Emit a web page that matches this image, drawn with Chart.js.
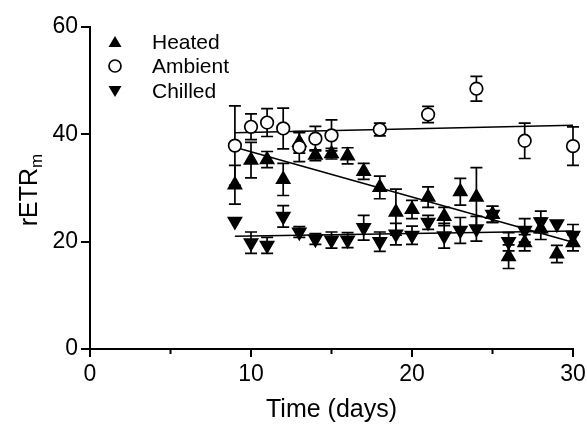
<!DOCTYPE html>
<html>
<head>
<meta charset="utf-8">
<script src="https://cdn.jsdelivr.net/npm/chart.js@4.4.1/dist/chart.umd.min.js"></script>
<style>
  html, body { margin: 0; background: #fff; }
  #wrap { width: 587px; height: 425px; }
</style>
</head>
<body>
<div id="wrap"><canvas id="rChart" width="587" height="425"></canvas></div>
<script>
// ── Data ──
const heatedDays = [9, 10, 11, 12, 13, 14, 15, 16, 17, 18, 19, 20, 21, 22, 23, 24, 25, 26, 27, 28, 29, 30];
const heatedVals = [30.6, 35.2, 35.3, 31.6, 38.5, 36.1, 36.4, 36.0, 33.1, 30.1, 25.5, 26.0, 28.3, 24.7, 29.3, 28.3, 25.1, 17.2, 19.8, 22.4, 17.7, 19.8];
const heatedErr  = [3.6, 3.3, 1.5, 3.0, 2.0, 1.0, 1.0, 1.5, 1.5, 2.1, 4.3, 1.7, 1.9, 1.7, 2.5, 5.5, 1.5, 2.2, 1.5, 2.0, 1.6, 1.5];

const ambientDays = [9, 10, 11, 12, 13, 14, 15, 18, 21, 24, 27, 30];
const ambientVals = [37.9, 41.4, 42.2, 41.1, 37.6, 39.2, 39.8, 40.9, 43.7, 48.5, 38.8, 37.8];
const ambientErr  = [7.4, 2.4, 2.6, 3.8, 2.7, 2.3, 2.9, 1.2, 1.5, 2.3, 3.3, 3.6];

const chilledDays = [9, 10, 11, 12, 13, 14, 15, 16, 17, 18, 19, 20, 21, 22, 23, 24, 25, 26, 27, 28, 29, 30];
const chilledVals = [23.8, 19.8, 19.3, 24.7, 21.8, 20.5, 20.3, 20.3, 22.6, 20.0, 21.4, 21.2, 23.6, 21.1, 22.1, 22.4, 25.1, 20.0, 22.1, 23.7, 23.3, 21.2];
const chilledErr  = [0, 2.0, 1.5, 2.0, 1.0, 1.0, 1.5, 1.4, 2.3, 1.8, 2.0, 1.7, 1.3, 2.3, 2.4, 2.3, 1.5, 1.7, 2.2, 2.0, 0, 2.0];

// regression line end points
const fitDays   = [9, 30];
const heatedFit = [37.6, 19.9];
const ambientFit = [40.3, 41.7];
const chilledFit = [21.0, 22.0];

const xTicks = [0, 10, 20, 30];
const xMinorTicks = [5, 15, 25];
const yTicks = [0, 20, 40, 60];
const legendLabels = ['Heated', 'Ambient', 'Chilled'];

const FONT = "'Liberation Sans', Arial, Helvetica, sans-serif";
const pts = (xs, ys) => xs.map((d, i) => ({ x: d, y: ys[i] }));

// ── Error bars (drawn under the markers) ──
const errorBars = {
  id: 'errorBars',
  beforeDatasetsDraw(chart) {
    const { ctx, scales: { x, y } } = chart;
    ctx.save();
    ctx.strokeStyle = '#000';
    ctx.lineWidth = 1.7;
    chart.data.datasets.forEach(ds => {
      if (!ds.err) return;
      ds.data.forEach((p, i) => {
        const e = ds.err[i];
        if (!e) return;
        const px = x.getPixelForValue(p.x);
        const top = y.getPixelForValue(p.y + e);
        const bot = y.getPixelForValue(p.y - e);
        ctx.beginPath();
        ctx.moveTo(px, top); ctx.lineTo(px, bot);
        ctx.moveTo(px - 6, top); ctx.lineTo(px + 6, top);
        ctx.moveTo(px - 6, bot); ctx.lineTo(px + 6, bot);
        ctx.stroke();
      });
    });
    ctx.restore();
  }
};

// ── Minor x ticks, y title with subscript, legend ──
const extras = {
  id: 'extras',
  afterDraw(chart) {
    const { ctx, scales: { x, y } } = chart;
    ctx.save();
    ctx.strokeStyle = '#000';
    ctx.lineWidth = 2;
    const base = y.getPixelForValue(0);
    xMinorTicks.forEach(v => {
      const px = x.getPixelForValue(v);
      ctx.beginPath();
      ctx.moveTo(px, base); ctx.lineTo(px, base + 5);
      ctx.stroke();
    });

    // y title: rETR with subscript m
    ctx.fillStyle = '#000';
    ctx.translate(37, 190);
    ctx.rotate(-Math.PI / 2);
    ctx.font = '25px ' + FONT;
    const w1 = ctx.measureText('rETR').width;
    ctx.font = '17px ' + FONT;
    const w2 = ctx.measureText('m').width;
    const sx = -(w1 + w2) / 2;
    ctx.textBaseline = 'alphabetic';
    ctx.font = '25px ' + FONT;
    ctx.fillText('rETR', sx, 0);
    ctx.font = '17px ' + FONT;
    ctx.fillText('m', sx + w1, 5);
    ctx.setTransform(1, 0, 0, 1, 0, 0);

    // legend
    const rows = [
      { style: 'up', y: 42 },
      { style: 'circle', y: 66 },
      { style: 'down', y: 91 }
    ];
    ctx.font = '21px ' + FONT;
    ctx.textBaseline = 'middle';
    rows.forEach((r, i) => {
      const mx = 115, my = r.y;
      ctx.beginPath();
      if (r.style === 'circle') {
        ctx.arc(mx, my, 6, 0, Math.PI * 2);
        ctx.fillStyle = '#fff';
        ctx.fill();
        ctx.lineWidth = 1.7;
        ctx.stroke();
      } else {
        const s = r.style === 'up' ? 1 : -1;
        ctx.moveTo(mx, my - 6 * s);
        ctx.lineTo(mx + 6.5, my + 5 * s);
        ctx.lineTo(mx - 6.5, my + 5 * s);
        ctx.closePath();
        ctx.fillStyle = '#000';
        ctx.fill();
      }
      ctx.fillStyle = '#000';
      ctx.fillText(legendLabels[i], 152, my + 1);
    });
    ctx.restore();
  }
};

const markerBase = { showLine: false, clip: false, borderColor: '#000', borderWidth: 1.7, pointRadius: 7.5, pointHoverRadius: 7.5 };
const fitBase = { showLine: true, clip: false, borderColor: '#000', borderWidth: 1.5, pointRadius: 0, pointHoverRadius: 0, fill: false };

new Chart(document.getElementById('rChart'), {
  type: 'scatter',
  data: {
    datasets: [
      { ...fitBase, label: 'Heated fit', data: pts(fitDays, heatedFit), order: 6 },
      { ...fitBase, label: 'Ambient fit', data: pts(fitDays, ambientFit), order: 5 },
      { ...fitBase, label: 'Chilled fit', data: pts(fitDays, chilledFit), order: 4 },
      { ...markerBase, label: 'Chilled', data: pts(chilledDays, chilledVals), err: chilledErr,
        pointStyle: 'triangle', rotation: 180, backgroundColor: '#000', order: 3 },
      { ...markerBase, label: 'Heated', data: pts(heatedDays, heatedVals), err: heatedErr,
        pointStyle: 'triangle', backgroundColor: '#000', order: 2 },
      { ...markerBase, label: 'Ambient', data: pts(ambientDays, ambientVals), err: ambientErr,
        pointStyle: 'circle', pointRadius: 6.3, pointHoverRadius: 6.3, backgroundColor: '#fff', order: 1 }
    ]
  },
  options: {
    responsive: false,
    animation: false,
    events: [],
    layout: { padding: { left: 0, top: 27, right: 14, bottom: 0 } },
    plugins: { legend: { display: false }, tooltip: { enabled: false } },
    scales: {
      x: {
        type: 'linear', min: 0, max: 30,
        afterFit: s => { s.height = 76; s.paddingLeft = 0; s.paddingRight = 0; },
        afterBuildTicks: s => { s.ticks = xTicks.map(v => ({ value: v })); },
        border: { display: true, color: '#000', width: 2 },
        grid: { display: true, drawOnChartArea: false, drawTicks: true, tickLength: 8, color: '#000', lineWidth: 2 },
        ticks: { color: '#000', padding: 4, maxRotation: 0, font: { family: FONT, size: 23 } },
        title: { display: true, text: 'Time (days)', color: '#000', padding: { top: 0, bottom: 0 }, font: { family: FONT, size: 25 } }
      },
      y: {
        type: 'linear', min: 0, max: 60,
        afterFit: s => { s.width = 90; s.paddingTop = 0; s.paddingBottom = 0; },
        afterBuildTicks: s => { s.ticks = yTicks.map(v => ({ value: v })); },
        border: { display: true, color: '#000', width: 2 },
        grid: { display: true, drawOnChartArea: false, drawTicks: true, tickLength: 9, color: '#000', lineWidth: 2 },
        ticks: { color: '#000', padding: 3, font: { family: FONT, size: 23 } }
      }
    }
  },
  plugins: [errorBars, extras]
});
</script>
</body>
</html>
